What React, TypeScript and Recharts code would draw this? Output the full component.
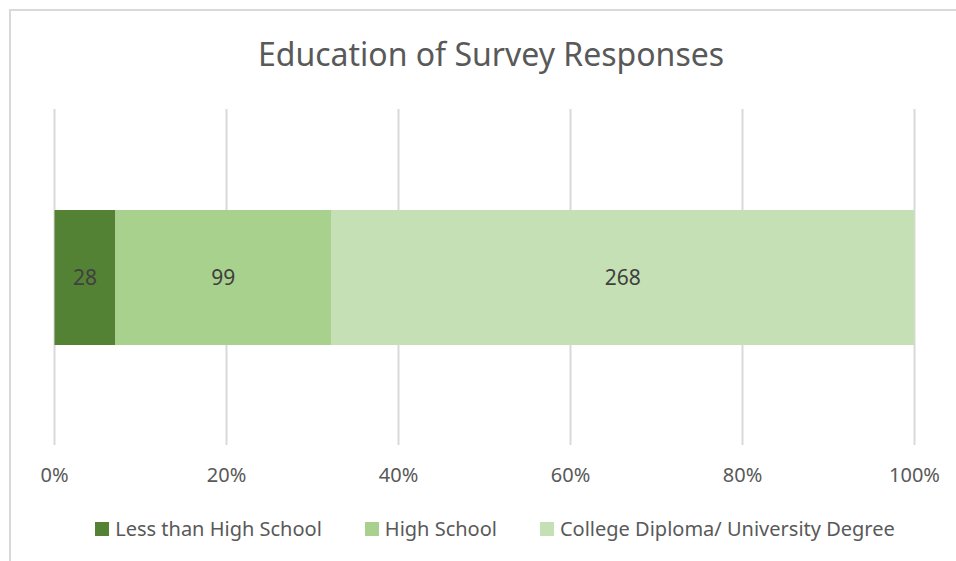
import React from "react"
import {
  BarChart,
  Bar,
  XAxis,
  YAxis,
  CartesianGrid,
  Legend,
  LabelList,
} from "recharts"

const categories = ["Education"]
const seriesNames = [
  "Less than High School",
  "High School",
  "College Diploma/ University Degree",
]
const lessThanHighSchool = [28]
const highSchool = [99]
const collegeUniversity = [268]
const xTicks = [0, 0.2, 0.4, 0.6, 0.8, 1]

const colors = ["#548235", "#A9D18E", "#C5E0B4"]
const FONT = "'Noto Sans', 'Open Sans', sans-serif"

const data = categories.map((name, i) => ({
  name,
  s0: lessThanHighSchool[i],
  s1: highSchool[i],
  s2: collegeUniversity[i],
}))

function LegendContent(props: any) {
  // vertical layout hands the payload back reversed, put it in series order
  const payload = [...(props.payload || [])].sort(
    (a: any, b: any) => seriesNames.indexOf(a.value) - seriesNames.indexOf(b.value)
  )
  return (
    <div style={{ display: "flex", justifyContent: "center", fontFamily: FONT }}>
      {payload.map((p: any, i: number) => (
        <div
          key={i}
          style={{
            display: "flex",
            alignItems: "center",
            marginLeft: i === 0 ? 0 : 43,
          }}
        >
          <span
            style={{
              width: 14,
              height: 14,
              background: p.color,
              display: "inline-block",
              marginRight: 6,
            }}
          />
          <span style={{ fontSize: 20, color: "#595959" }}>{p.value}</span>
        </div>
      ))}
    </div>
  )
}

export default function App() {
  return (
    <div
      style={{
        position: "fixed",
        left: 0,
        top: 0,
        width: 956,
        height: 561,
        background: "#fff",
        overflow: "hidden",
      }}
    >
      <div
        style={{
          position: "absolute",
          left: 9,
          top: 9,
          width: 960,
          height: 560,
          borderTop: "2px solid #d9d9d9",
          borderLeft: "2px solid #d9d9d9",
        }}
      />
      <div
        style={{
          position: "absolute",
          left: 0,
          top: 32,
          width: 982,
          textAlign: "center",
          fontFamily: FONT,
          fontSize: 32,
          color: "#595959",
        }}
      >
        Education of Survey Responses
      </div>
      <div style={{ position: "absolute", left: 0, top: 0 }}>
        <BarChart
          width={956}
          height={561}
          data={data}
          layout="vertical"
          stackOffset="expand"
          margin={{ top: 109, right: 41.5, bottom: 76, left: 54.5 }}
        >
          <CartesianGrid horizontal={false} stroke="#d9d9d9" strokeWidth={2} />
          <XAxis
            type="number"
            domain={[0, 1]}
            ticks={xTicks}
            tickFormatter={(v: number) => `${Math.round(v * 100)}%`}
            axisLine={false}
            tickLine={false}
            tickSize={0}
            tickMargin={23}
            height={40}
            interval={0}
            tick={{ fill: "#595959", fontSize: 20, fontFamily: FONT }}
          />
          <YAxis type="category" dataKey="name" hide />
          <Legend
            layout="horizontal"
            verticalAlign="middle"
            align="center"
            wrapperStyle={{ top: 515, left: 34, width: 922 }}
            content={<LegendContent />}
          />
          {["s0", "s1", "s2"].map((k, i) => (
            <Bar
              key={k}
              dataKey={k}
              name={seriesNames[i]}
              stackId="a"
              fill={colors[i]}
              barSize={135}
              isAnimationActive={false}
            >
              <LabelList
                dataKey={k}
                position="center"
                fill="#404040"
                fontSize={21}
                fontFamily={FONT}
              />
            </Bar>
          ))}
        </BarChart>
      </div>
    </div>
  )
}
